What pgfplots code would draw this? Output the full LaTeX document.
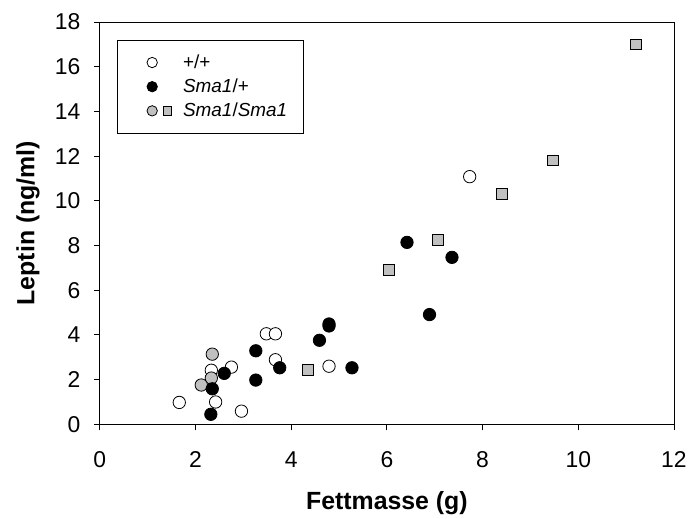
\documentclass[border=0pt]{standalone}
\usepackage{pgfplots}
\pgfplotsset{compat=1.18}
\usepackage{fontspec}
\setmainfont{Liberation Sans}
\definecolor{sgray}{RGB}{192,192,192}
\pgfplotsset{
  circleleg/.style={legend image code/.code={\path[draw=none,fill=none] (0bp,-6bp) rectangle (50bp,6bp);
    \draw[##1, mark size=5.2bp] plot coordinates {(21bp,0bp)};}},
  twoleg/.style={legend image code/.code={\path[draw=none,fill=none] (0bp,-6bp) rectangle (50bp,6bp);
    \draw[##1, mark size=5.2bp] plot coordinates {(21bp,0bp)};
    \draw[only marks, mark=square*, mark size=4.2bp, mark options={fill=sgray, draw=black, line width=0.8bp}] plot coordinates {(36bp,0bp)};}},
}
\begin{document}
\begin{tikzpicture}
\begin{axis}[
  scale only axis, width=575bp, height=403bp,
  xmin=0, xmax=12, ymin=0, ymax=18,
  xtick={0,2,...,12}, ytick={0,2,...,18},
  tick pos=left, tick align=outside, major tick length=6bp,
  axis line style={line width=0.9bp},
  every tick/.style={line width=0.9bp, black},
  ticklabel style={font=\fontsize{23}{27}\selectfont},
  xticklabel style={yshift=-18bp},
  yticklabel style={xshift=-10bp},
  /pgf/number format/assume math mode=true,
  xlabel={Fettmasse (g)}, ylabel={Leptin (ng/ml)},
  label style={font=\fontsize{25}{30}\selectfont\bfseries},
  xlabel style={at={(axis description cs:0.5,0)}, yshift=-79bp, anchor=center},
  ylabel style={at={(axis description cs:0,0.5)}, yshift=72bp, anchor=center},
  legend style={at={(axis description cs:0.0296,0.955)}, anchor=north west,
    draw=black, line width=0.8bp, inner xsep=14bp, inner ysep=12.5bp,
    font=\fontsize{19}{22}\selectfont, row sep=5bp},
  legend cell align=left,
]
\addplot[only marks, mark=*, mark size=6.2bp, mark options={fill=white, draw=black, line width=0.8bp}, circleleg]
  coordinates {(7.73,11.08) (3.48,4.05) (3.67,4.05) (3.67,2.89) (4.79,2.60) (2.75,2.56) (2.33,2.42) (1.66,0.98) (2.42,1.00) (2.96,0.59)};
\addlegendentry{+/+}
\addplot[forget plot, only marks, mark=*, mark size=6.2bp, mark options={fill=sgray, draw=black, line width=0.8bp}]
  coordinates {(2.35,3.14) (2.33,2.07) (2.12,1.76)};
\addplot[only marks, mark=*, mark size=6.2bp, mark options={fill=black, draw=black, line width=0.8bp}, circleleg]
  coordinates {(6.42,8.14) (7.36,7.47) (6.89,4.91) (4.79,4.49) (4.79,4.40) (4.59,3.76) (3.26,3.29) (3.76,2.53) (5.27,2.53) (3.26,1.98) (2.60,2.28) (2.35,1.59) (2.32,0.45)};
\addlegendentry{\textit{Sma1}/+}
\addlegendimage{only marks, mark=*, mark size=6.2bp, mark options={fill=sgray, draw=black, line width=0.8bp}, twoleg}
\addlegendentry{\textit{Sma1}/\textit{Sma1}}
\addplot[forget plot, only marks, mark=square*, mark size=5.3bp, mark options={fill=sgray, draw=black, line width=0.8bp}]
  coordinates {(11.21,17.0) (9.47,11.8) (8.40,10.31) (7.07,8.26) (6.04,6.90) (4.35,2.44)};
\end{axis}
\path (-100bp,-89bp) rectangle (590bp,425bp);
\end{tikzpicture}
\end{document}
